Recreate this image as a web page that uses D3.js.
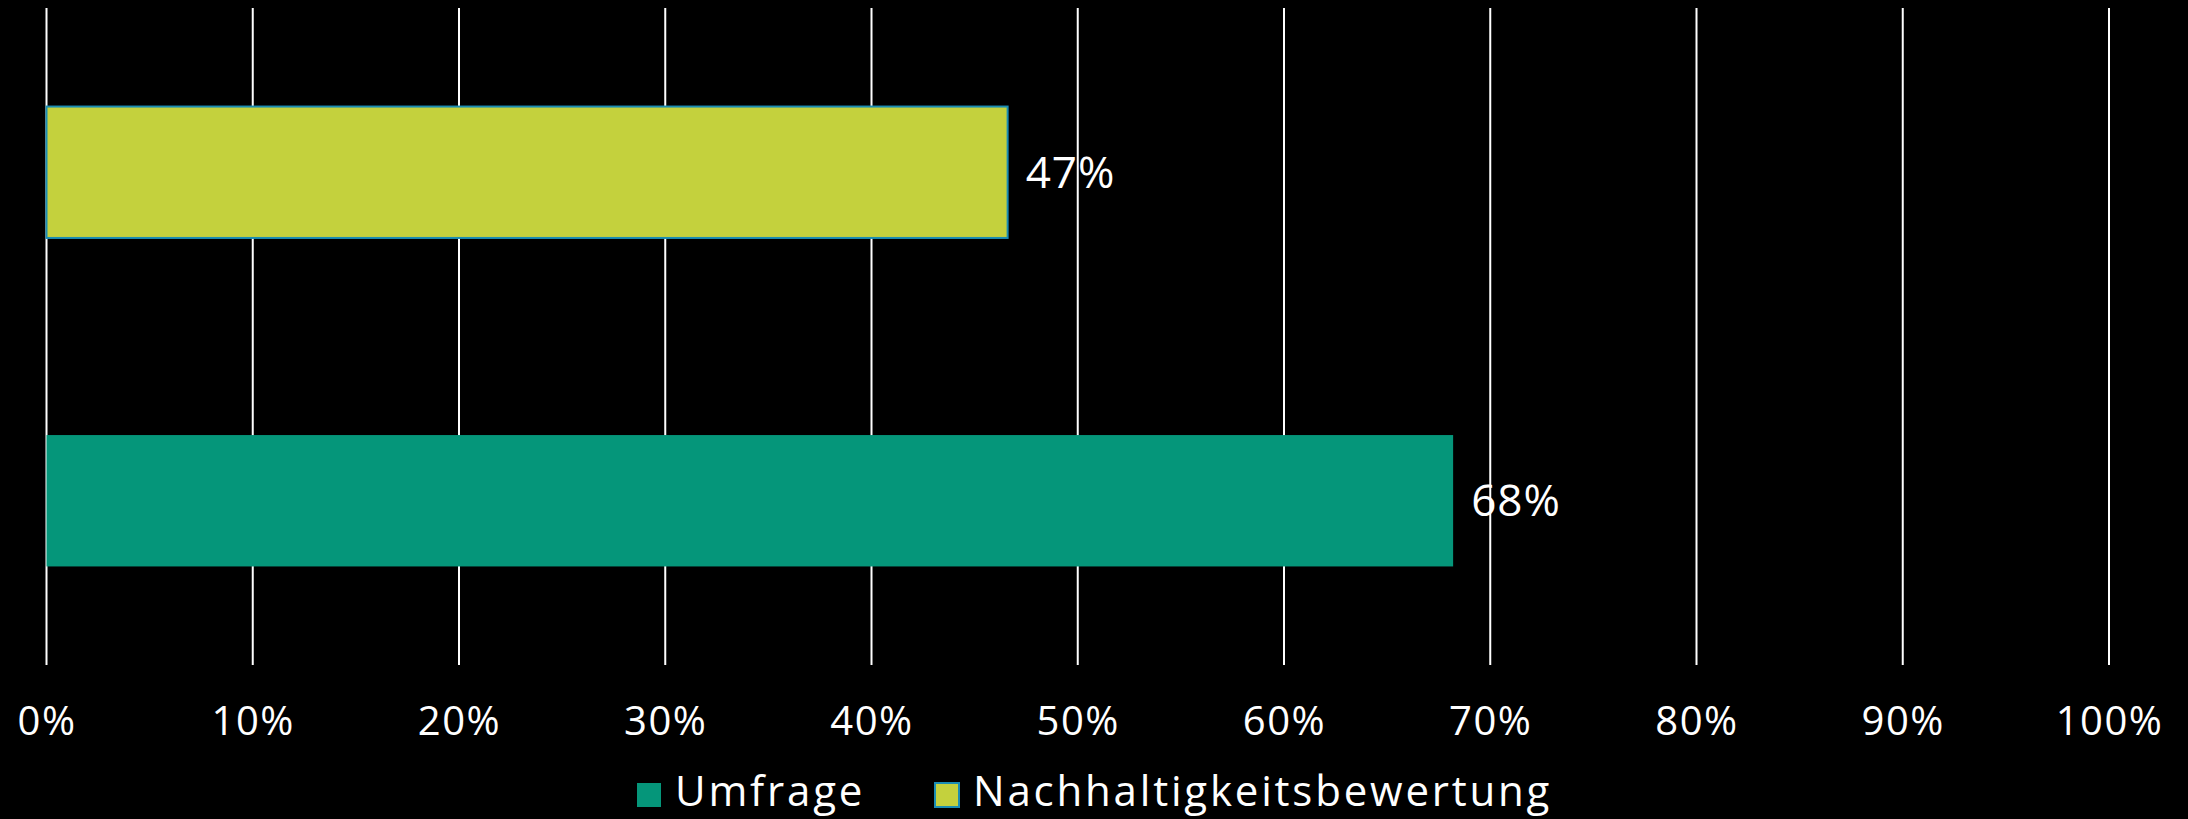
<!DOCTYPE html>
<html>
<head>
<meta charset="utf-8">
<script src="https://cdn.jsdelivr.net/npm/d3@7"></script>
<style>
  body{margin:0;background:#000;}
  text{font-family:"Open Sans",sans-serif;fill:#fff;}
</style>
</head>
<body>
<div id="chart"></div>
<script>
const categories = ["Nachhaltigkeitsbewertung", "Umfrage"]   // top to bottom
const values     = [0.466, 0.682]
const labels     = ["47%", "68%"]
const colors     = {"Umfrage":"#05967a", "Nachhaltigkeitsbewertung":"#c4d13d"}
const strokes    = {"Umfrage":"none", "Nachhaltigkeitsbewertung":"#1b8db3"}
const ticks      = d3.range(0, 1.01, 0.1)
const legendKeys = ["Umfrage", "Nachhaltigkeitsbewertung"]

const W = 2188, H = 819
const margin = {top:8, right:79, bottom:154, left:46.5},
      width  = W - margin.left - margin.right,
      height = H - margin.top - margin.bottom

const x = d3.scaleLinear().domain([0,1]).range([0, width])
const y = d3.scaleBand().domain(categories).range([0, height]).paddingInner(0.6).paddingOuter(0.3)

const svg = d3.select("#chart")
  .append("svg")
    .attr("width", W)
    .attr("height", H)
  .append("g")
    .attr("transform","translate(" + margin.left + "," + margin.top + ")")

// gridlines
svg.selectAll(null)
  .data(ticks)
  .enter()
  .append("line")
  .attr("x1", d=>x(d)).attr("x2", d=>x(d))
  .attr("y1", 0).attr("y2", height)
  .style("stroke","#fff")
  .style("stroke-width",2)

// x axis labels
const xa = svg.append("g")
  .attr("transform","translate(0," + height + ")")
  .call(d3.axisBottom(x).tickValues(ticks).tickSize(0).tickFormat(d3.format(".0%")))
xa.select(".domain").remove()
xa.selectAll("text")
  .attr("y", 70).attr("dy", 0)
  .style("font-size","40px")
  .style("letter-spacing","1.5px")
  .attr("fill","#fff")

// bars
svg.selectAll(".bar")
  .data(categories)
  .join("rect")
  .attr("class","bar")
  .attr("x", x(0))
  .attr("y", d=>y(d))
  .attr("width", (d,i)=>x(values[i]) - x(0))
  .attr("height", y.bandwidth())
  .style("fill", d=>colors[d])
  .style("stroke", d=>strokes[d])
  .style("stroke-width", 2)

// value labels
svg.selectAll(".val")
  .data(categories)
  .join("text")
  .attr("class","val")
  .attr("x", (d,i)=>x(values[i]) + 18)
  .attr("y", d=>y(d) + y.bandwidth()/2)
  .attr("dy","0.35em")
  .style("font-size","44px")
  .style("letter-spacing","1px")
  .text((d,i)=>labels[i])

// legend
const leg = d3.select("svg").append("g").attr("transform","translate(0,795)")
const legX = [637, 935]
legendKeys.forEach((k,i)=>{
  leg.append("rect")
    .attr("x", legX[i]).attr("y", -12)
    .attr("width", 24).attr("height", 24)
    .style("fill", colors[k])
    .style("stroke", strokes[k])
    .style("stroke-width", 2)
  leg.append("text")
    .attr("x", legX[i] + 38).attr("y", 11)
    .style("font-size","42px")
    .style("letter-spacing","2.8px")
    .text(k)
})
</script>
</body>
</html>
